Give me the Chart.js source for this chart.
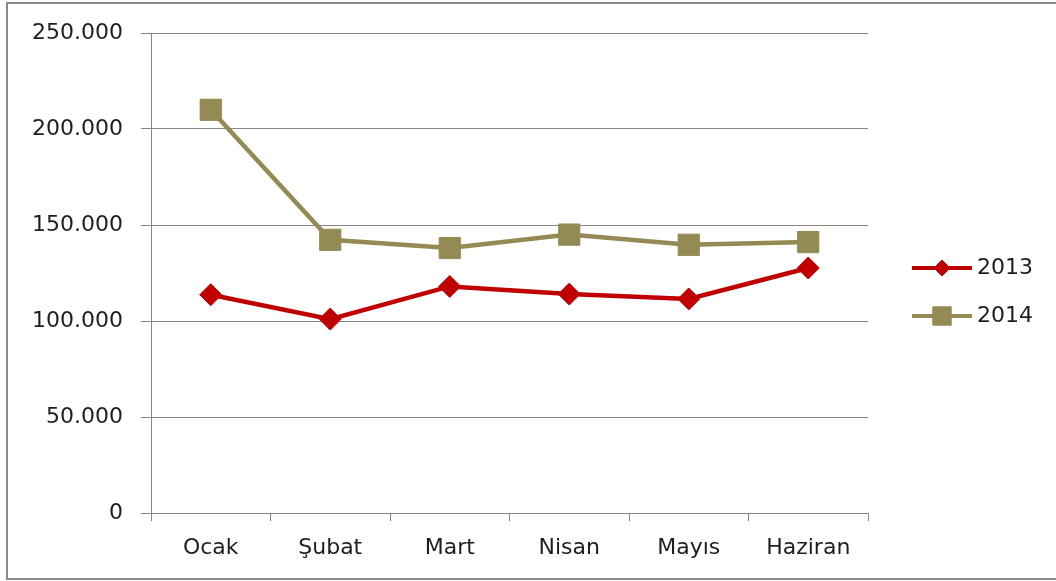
<!DOCTYPE html>
<html>
<head>
<meta charset="utf-8">
<script src="https://cdn.jsdelivr.net/npm/chart.js@4/dist/chart.umd.min.js"></script>
<style>
  html, body { margin: 0; background: #fff; overflow: hidden; width: 1056px; height: 581px; }
  #frame {
    position: absolute; left: 6px; top: 2px; width: 1060px; height: 574px;
    border: 2px solid #898989; border-right: none;
  }
  #myChart { position: absolute; left: 0; top: 0; }
</style>
</head>
<body>
<div id="frame"></div>
<canvas id="myChart" width="1056" height="581"></canvas>
<script>
// chart data
const months = ["Ocak", "Şubat", "Mart", "Nisan", "Mayıs", "Haziran"];
const values2013 = [113700, 101000, 118000, 114000, 111500, 127600];
const values2014 = [210000, 142300, 138000, 145000, 139700, 141100];
const seriesNames = ["2013", "2014"];

const gridGray = "#868686";
const textColor = "#1e1e1e";
const fontFamily = "'DejaVu Sans', sans-serif";

// dots as thousands separator (250.000)
function fmt(v) {
  return String(v).replace(/\B(?=(\d{3})+(?!\d))/g, ".");
}

// legend with a line through the marker, like the office style
const lineLegend = {
  id: "lineLegend",
  afterDraw(chart) {
    const ctx = chart.ctx;
    const rows = [268, 316];
    chart.data.datasets.forEach((ds, i) => {
      const y = rows[i];
      ctx.save();
      ctx.strokeStyle = ds.borderColor;
      ctx.fillStyle = ds.backgroundColor;
      ctx.lineWidth = 4;
      ctx.beginPath();
      ctx.moveTo(912, y);
      ctx.lineTo(972, y);
      ctx.stroke();
      ctx.lineWidth = 1;
      Chart.helpers.drawPoint(ctx, {
        pointStyle: ds.pointStyle,
        radius: ds.pointStyle === "rect" ? 13 : 8,
        borderWidth: 1,
        rotation: 0
      }, 942, y);
      ctx.fillStyle = textColor;
      ctx.font = "22px " + fontFamily;
      ctx.textBaseline = "middle";
      ctx.textAlign = "left";
      ctx.fillText(ds.label, 977, y);
      ctx.restore();
    });
  }
};

const ctx = document.getElementById("myChart");
new Chart(ctx, {
  type: "line",
  data: {
    labels: months,
    datasets: [{
      label: seriesNames[0],
      data: values2013,
      borderColor: "#C00000",
      backgroundColor: "#C00000",
      borderWidth: 4.5,
      pointStyle: "rectRot",
      pointRadius: 11,
      pointBorderWidth: 1,
      tension: 0
    }, {
      label: seriesNames[1],
      data: values2014,
      borderColor: "#948A54",
      backgroundColor: "#948A54",
      borderWidth: 4.5,
      pointStyle: "rect",
      pointRadius: 15,
      pointBorderWidth: 1,
      tension: 0
    }]
  },
  options: {
    responsive: false,
    animation: false,
    layout: { padding: { top: 33, right: 188, left: 0, bottom: 0 } },
    plugins: {
      legend: { display: false },
      tooltip: { enabled: false }
    },
    scales: {
      x: {
        offset: true,
        grid: {
          offset: true,
          drawOnChartArea: false,
          color: gridGray,
          tickLength: 8
        },
        border: { color: gridGray, width: 1 },
        ticks: {
          color: textColor,
          padding: 14,
          maxRotation: 0,
          font: { family: fontFamily, size: 22 }
        },
        afterFit(scale) { scale.height = 68; }
      },
      y: {
        min: 0,
        max: 250000,
        grid: { color: gridGray, tickLength: 10 },
        border: { color: gridGray, width: 1 },
        ticks: {
          stepSize: 50000,
          color: textColor,
          padding: 18,
          font: { family: fontFamily, size: 22 },
          callback: v => fmt(v)
        },
        afterFit(scale) { scale.width = 151; }
      }
    }
  },
  plugins: [lineLegend]
});
</script>
</body>
</html>
